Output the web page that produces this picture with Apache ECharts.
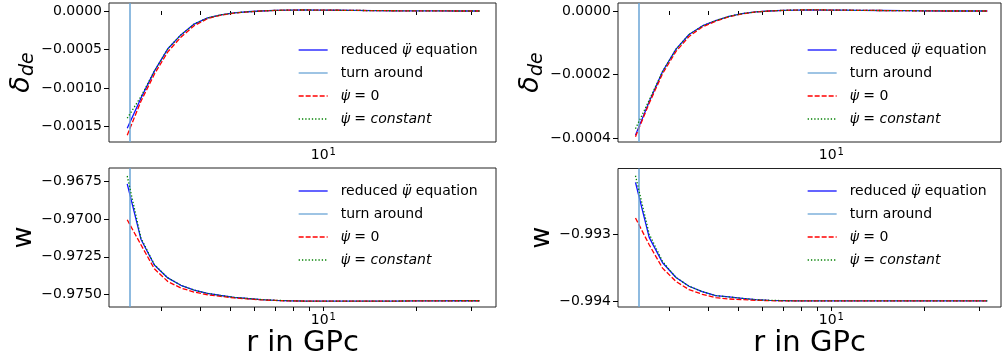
<!DOCTYPE html>
<html><head><meta charset="utf-8">
<script src="https://cdn.jsdelivr.net/npm/echarts@6/dist/echarts.min.js"></script>
<style>html,body{margin:0;padding:0;background:#fff}#c{width:1003px;height:359px}</style>
</head><body><div id="c"></div><script>
// r in GPc (shared x values)
const rValues = [2.33, 2.58, 2.85, 3.15, 3.47, 3.83, 4.23, 4.67, 5.15, 5.7, 6.3, 7.0, 7.8, 8.7, 9.7, 11, 12.5, 14.5, 17, 20, 23.5, 27.5, 31.9];
const turnAroundLeft = 2.38;
const turnAroundRight = 2.38;

// delta_de, left column
const deltaL_reduced = [-0.00152, -0.00113, -0.00078, -0.00049, -0.00031, -0.00017, -0.00009, -0.00005, -0.000025, -0.00001, 0, 0.000008, 0.000012, 0.000013, 0.000012, 0.00001, 0.000008, 0.000005, 0.000003, 0.000002, 0.000001, 0, 0];
const deltaL_zero = [-0.00161, -0.00117, -0.00082, -0.00053, -0.00034, -0.00019, -0.0001, -0.000055, -0.000028, -0.000012, 0, 0.000008, 0.000012, 0.000013, 0.000012, 0.00001, 0.000008, 0.000005, 0.000003, 0.000002, 0.000001, 0, 0];
const deltaL_const = [-0.00139, -0.00111, -0.00078, -0.00049, -0.00031, -0.00017, -0.00009, -0.00005, -0.000025, -0.00001, 0, 0.000008, 0.000012, 0.000013, 0.000012, 0.00001, 0.000008, 0.000005, 0.000003, 0.000002, 0.000001, 0, 0];

// delta_de, right column
const deltaR_reduced = [-0.00039, -0.000285, -0.00019, -0.00012, -0.000074, -0.000047, -0.00003, -0.000017, -0.000008, -0.000003, 0, 0.000002, 0.000003, 0.0000035, 0.000003, 0.0000025, 0.000002, 0.0000015, 0.000001, 0.0000005, 0, 0, 0];
const deltaR_zero = [-0.000395, -0.00029, -0.000197, -0.000127, -0.00008, -0.00005, -0.000032, -0.000018, -0.000009, -0.000003, 0, 0.000002, 0.000003, 0.0000035, 0.000003, 0.0000025, 0.000002, 0.0000015, 0.000001, 0.0000005, 0, 0, 0];
const deltaR_const = [-0.00037, -0.00028, -0.00019, -0.00012, -0.000074, -0.000047, -0.00003, -0.000017, -0.000008, -0.000003, 0, 0.000002, 0.000003, 0.0000035, 0.000003, 0.0000025, 0.000002, 0.0000015, 0.000001, 0.0000005, 0, 0, 0];

// w, left column
const wL_reduced = [-0.96765, -0.97133, -0.97305, -0.97391, -0.97440, -0.97472, -0.97494, -0.97508, -0.97520, -0.97528, -0.97535, -0.97540, -0.97543, -0.97545, -0.97546, -0.97546, -0.97546, -0.97545, -0.97545, -0.97544, -0.97544, -0.97543, -0.97543];
const wL_zero = [-0.97003, -0.97170, -0.97330, -0.97415, -0.97458, -0.97485, -0.97503, -0.97514, -0.97524, -0.97531, -0.97537, -0.97541, -0.97544, -0.97545, -0.97546, -0.97546, -0.97546, -0.97545, -0.97545, -0.97544, -0.97544, -0.97543, -0.97543];
const wL_const = [-0.96712, -0.97125, -0.97302, -0.97391, -0.97440, -0.97472, -0.97494, -0.97508, -0.97520, -0.97528, -0.97535, -0.97540, -0.97543, -0.97545, -0.97546, -0.97546, -0.97546, -0.97545, -0.97545, -0.97544, -0.97544, -0.97543, -0.97543];

// w, right column
const wR_reduced = [-0.99223, -0.99305, -0.99343, -0.99365, -0.99378, -0.99386, -0.99392, -0.99394, -0.99396, -0.99398, -0.99399, -0.993995, -0.994, -0.994, -0.994, -0.994, -0.994, -0.994, -0.994, -0.994, -0.994, -0.994, -0.994];
const wR_zero = [-0.99276, -0.99316, -0.99351, -0.99371, -0.99383, -0.99390, -0.99395, -0.99397, -0.99398, -0.99399, -0.993995, -0.994, -0.994, -0.994, -0.994, -0.994, -0.994, -0.994, -0.994, -0.994, -0.994, -0.994, -0.994];
const wR_const = [-0.99213, -0.99300, -0.99341, -0.99365, -0.99378, -0.99386, -0.99392, -0.99394, -0.99396, -0.99398, -0.99399, -0.993995, -0.994, -0.994, -0.994, -0.994, -0.994, -0.994, -0.994, -0.994, -0.994, -0.994, -0.994];

// tick values
const xTickValues = [3, 4, 5, 6, 7, 8, 9, 10, 20, 30];
const xLabelValues = [10];
const yTicksDeltaL = [0, -0.0005, -0.0010, -0.0015];
const yTicksDeltaR = [0, -0.0002, -0.0004];
const yTicksWL = [-0.9675, -0.9700, -0.9725, -0.9750];
const yTicksWR = [-0.993, -0.994];

const names = ['reduced', 'turn', 'zero', 'const'];
const legendText = {
  reduced: 'reduced {i|ψ\u0308} equation',
  turn: 'turn around',
  zero: '{i|ψ\u0307} = 0',
  const: '{i|ψ\u0307} = {i|constant}'
};

const FONT = 'DejaVu Sans';
const panels = [
  {grid:{left:109, top:3, width:387, height:139}, xmin:2.035, xmax:36.06, ymin:-0.0016984, ymax:0.0001037, ticks:yTicksDeltaL, dec:4, name:'{d|δ}{s|de}', nameGap:70, turn:turnAroundLeft, ys:[deltaL_reduced, deltaL_zero, deltaL_const], xname:'', legend:{left:298, top:43}},
  {grid:{left:618, top:3, width:383, height:139}, xmin:2.046, xmax:35.3, ymin:-0.0004116, ymax:0.0000251, ticks:yTicksDeltaR, dec:4, name:'{d|δ}{s|de}', nameGap:70, turn:turnAroundRight, ys:[deltaR_reduced, deltaR_zero, deltaR_const], xname:'', legend:{left:807, top:43}},
  {grid:{left:109, top:168, width:387, height:139}, xmin:2.035, xmax:36.06, ymin:-0.975846, ymax:-0.966587, ticks:yTicksWL, dec:4, name:'w', nameGap:71, turn:turnAroundLeft, ys:[wL_reduced, wL_zero, wL_const], xname:'r in GPc', legend:{left:298, top:184}},
  {grid:{left:618, top:168.5, width:383, height:138.5}, xmin:2.046, xmax:35.3, ymin:-0.99409, ymax:-0.992022, ticks:yTicksWR, dec:3, name:'w', nameGap:62, turn:turnAroundRight, ys:[wR_reduced, wR_zero, wR_const], xname:'r in GPc', legend:{left:807, top:184}}
];

const option = {
  animation: false,
  backgroundColor: '#fff',
  textStyle: {fontFamily: FONT},
  grid: [], xAxis: [], yAxis: [], series: [], legend: []
};

panels.forEach((p, i) => {
  option.grid.push(Object.assign({show:true, borderColor:'#222', borderWidth:1, backgroundColor:'transparent'}, p.grid));
  option.xAxis.push({
    type:'log', logBase:10, gridIndex:i, min:p.xmin, max:p.xmax,
    axisLine:{show:false},
    axisTick:{show:true, customValues:xTickValues, length:4, lineStyle:{color:'#000', width:1}},
    axisLabel:{show:true, customValues:xLabelValues, margin:5, color:'#000', fontFamily:FONT, fontSize:14,
      formatter: v => '{n|10}{s|1}',
      rich:{n:{fontSize:14, fontFamily:FONT, color:'#000', lineHeight:16}, s:{fontSize:10, fontFamily:FONT, color:'#000', lineHeight:16, verticalAlign:'top', padding:[0,0,6,1]}}},
    splitLine:{show:false}, minorTick:{show:false},
    name:p.xname, nameLocation:'middle', nameGap:18,
    nameTextStyle:{fontSize:29, fontFamily:FONT, color:'#000'}
  });
  option.yAxis.push({
    type:'value', gridIndex:i, min:p.ymin, max:p.ymax,
    axisLine:{show:false},
    axisTick:{show:true, customValues:p.ticks, length:5, lineStyle:{color:'#000', width:1}},
    axisLabel:{show:true, customValues:p.ticks, margin:7, color:'#000', fontFamily:FONT, fontSize:14,
      formatter: v => { const s = Number(v).toFixed(p.dec); return s.replace('-', '\u2212'); }},
    splitLine:{show:false},
    name:p.name, nameLocation:'middle', nameGap:p.nameGap, nameRotate:90,
    nameTextStyle:{fontSize:27, fontFamily:FONT, color:'#000',
      rich:{d:{fontSize:27, fontStyle:'italic', fontFamily:FONT, color:'#000'}, s:{fontSize:19, fontStyle:'italic', fontFamily:FONT, color:'#000', padding:[12,0,0,0]}}}
  });
  const mk = (arr) => rValues.map((x, k) => [x, arr[k]]);
  option.series.push({
    name:'reduced', type:'line', xAxisIndex:i, yAxisIndex:i, data:mk(p.ys[0]), showSymbol:false, symbol:'none',
    lineStyle:{color:'#1010ff', width:1.3}, itemStyle:{color:'#1010ff'}, z:2
  });
  option.series.push({
    name:'turn', type:'line', xAxisIndex:i, yAxisIndex:i, data:[], symbol:'none',
    lineStyle:{color:'#6aa5d6', width:1.5}, itemStyle:{color:'#6aa5d6'}, z:3,
    markLine:{silent:true, symbol:['none','none'], label:{show:false}, lineStyle:{color:'#6aa5d6', width:1.5, type:'solid'}, data:[{xAxis:p.turn}]}
  });
  option.series.push({
    name:'zero', type:'line', xAxisIndex:i, yAxisIndex:i, data:mk(p.ys[1]), showSymbol:false, symbol:'none',
    lineStyle:{color:'#ff0000', width:1.3, type:[5,2]}, itemStyle:{color:'#ff0000'}, z:4
  });
  option.series.push({
    name:'const', type:'line', xAxisIndex:i, yAxisIndex:i, data:mk(p.ys[2]), showSymbol:false, symbol:'none',
    lineStyle:{color:'#008000', width:1.3, type:[1.3,2]}, itemStyle:{color:'#008000'}, z:5
  });
  option.legend.push({
    show:true, orient:'vertical', left:p.legend.left, top:p.legend.top, padding:0,
    itemWidth:29, itemHeight:14, itemGap:9, selectedMode:false, data:names,
    itemStyle:{opacity:0}, lineStyle:{width:1.3},
    formatter: n => legendText[n],
    textStyle:{fontSize:14, fontFamily:FONT, color:'#000', padding:[0,0,0,8],
      rich:{i:{fontSize:14, fontStyle:'italic', fontFamily:FONT, color:'#000'}}}
  });
});

const chart = echarts.init(document.getElementById('c'), null, {renderer:'canvas'});
chart.setOption(option);
</script></body></html>
